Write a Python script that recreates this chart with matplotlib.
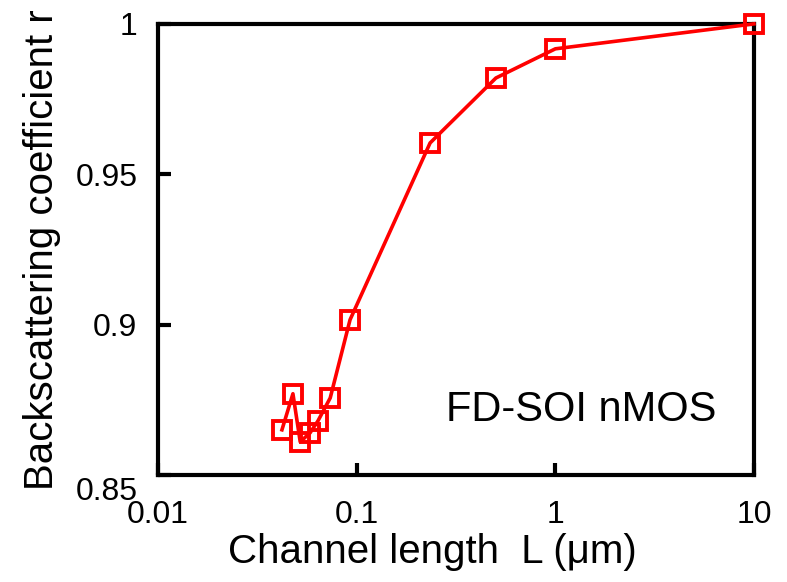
import numpy as np
import matplotlib.pyplot as plt
import matplotlib.transforms as mtransforms

plt.rcParams['font.family'] = ['Liberation Sans', 'DejaVu Sans']

# channel length (um) and backscattering coefficient
L_um = [0.042, 0.0477, 0.0519, 0.0582, 0.0638, 0.0735, 0.0925, 0.234, 0.502, 1.0, 10.0]
r_val = [0.865, 0.877, 0.861, 0.864, 0.868, 0.8756, 0.9016, 0.9604, 0.982, 0.9917, 1.0]

x_ticks = [0.01, 0.1, 1, 10]
x_tick_labels = ['0.01', '0.1', '1', '10']
y_ticks = [0.85, 0.9, 0.95, 1.0]
y_tick_labels = ['0.85', '0.9', '0.95', '1']

fig = plt.figure(figsize=(7.87, 5.82), dpi=100)
ax = fig.add_axes([0.201, 0.184, 0.757, 0.775])

ax.plot(L_um, r_val, color='#ff0000', lw=2.6, marker='s', ms=12.5,
        mfc='none', mec='#ff0000', mew=2.8, clip_on=False, zorder=3)

ax.set_xscale('log')
ax.set_xlim(0.01, 10)
ax.set_ylim(0.85, 1.0)
ax.set_xticks(x_ticks)
ax.set_xticklabels(x_tick_labels)
ax.set_yticks(y_ticks)
ax.set_yticklabels(y_tick_labels)
ax.minorticks_off()

for s in ax.spines.values():
    s.set_linewidth(3)
ax.tick_params(direction='in', length=9, width=3, labelsize=23)
ax.tick_params(axis='x', pad=18)
ax.tick_params(axis='y', pad=15)

# the lowest y label sits a bit below its tick in the original
lbl = ax.get_yticklabels()[0]
lbl.set_transform(lbl.get_transform() +
                  mtransforms.ScaledTranslation(0, -10 / 72, fig.dpi_scale_trans))

ax.set_xlabel('Channel length  L (μm)', fontsize=29)
ax.xaxis.set_label_coords(0.46, -0.128)
ax.set_ylabel('Backscattering coefficient r', fontsize=29, labelpad=10)

ax.text(0.71, 0.144, 'FD-SOI nMOS', fontsize=30, ha='center', va='center',
        transform=ax.transAxes)

fig.savefig('out.png', dpi=100)
